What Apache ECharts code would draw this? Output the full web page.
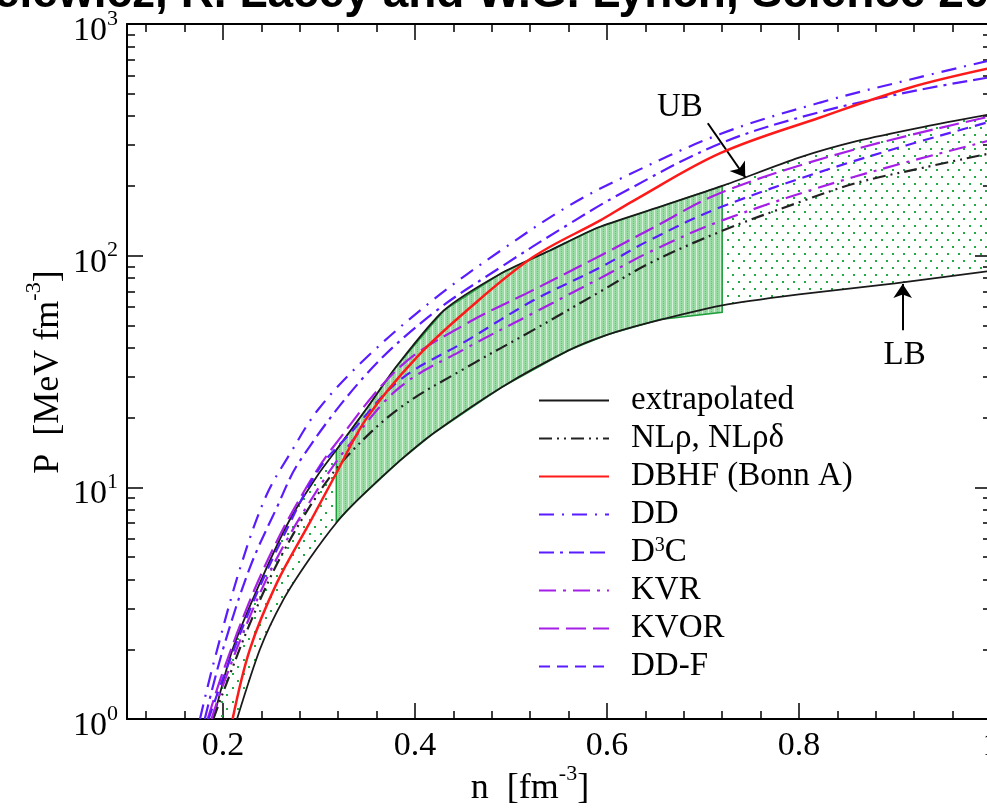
<!DOCTYPE html>
<html><head><meta charset="utf-8">
<script src="https://cdn.jsdelivr.net/npm/echarts@6.0.0/dist/echarts.min.js"></script>
<style>html,body{margin:0;padding:0;background:#fff}#c{width:987px;height:808px}</style>
</head><body><div id="c"></div>
<script>
// ---------- data (n in fm^-3, P in MeV fm^-3) ----------
const ubN = [0.19, 0.21, 0.24, 0.27, 0.30, 0.318, 0.35, 0.38, 0.43, 0.49, 0.54, 0.59, 0.65, 0.72, 0.80, 0.86, 0.93, 1.0];
const ubP = [1.0, 2.0, 4.0, 7.3, 11.5, 14.5, 22, 33, 58, 84, 105, 132, 160, 200, 265, 312, 360, 408];
const lbN = [0.2146, 0.2385, 0.2625, 0.29, 0.319, 0.34, 0.384, 0.42, 0.49, 0.56, 0.60, 0.645, 0.72, 0.80, 0.90, 1.0];
const lbP = [1.0, 2.0, 3.25, 4.9, 7.1, 8.8, 13, 17.2, 27, 39, 45.5, 51.5, 61, 68, 76, 86];
const flowTopN = [0.318, 0.35, 0.38, 0.43, 0.49, 0.54, 0.59, 0.65, 0.72];
const flowTopP = [14.5, 22, 33, 58, 84, 105, 132, 160, 200];
const flowBotN = [0.318, 0.34, 0.384, 0.42, 0.49, 0.56, 0.60, 0.655, 0.72];
const flowBotP = [7.1, 8.8, 13, 17.2, 27, 39, 45.5, 53, 57];

const nlN = [0.19, 0.2, 0.23, 0.26, 0.3, 0.332, 0.384, 0.454, 0.523, 0.593, 0.645, 0.72, 0.8, 0.86, 0.93, 1.0];
const nlP = [1.0, 1.3, 2.7, 5.0, 9.5, 14, 22, 33, 47.7, 70, 93, 128, 170, 206, 240, 277];
const redN = [0.21, 0.228, 0.256, 0.29, 0.318, 0.35, 0.402, 0.454, 0.523, 0.593, 0.627, 0.718, 0.822, 0.916, 1.0];
const redP = [1.0, 2.0, 3.86, 7.0, 11.5, 20, 36.5, 58, 98.6, 142, 172, 277, 395, 532, 646];
const ddN = [0.176, 0.19, 0.218, 0.245, 0.27, 0.3, 0.35, 0.419, 0.489, 0.558, 0.614, 0.718, 0.822, 0.926, 1.0];
const ddP = [1.0, 1.73, 4.5, 9.2, 14, 21.9, 36.5, 64.5, 105, 162, 215, 335, 458, 590, 698];
const d3cN = [0.181, 0.2, 0.228, 0.255, 0.28, 0.35, 0.419, 0.489, 0.558, 0.614, 0.718, 0.822, 0.926, 1.0];
const d3cP = [1.0, 2.0, 4.5, 8.0, 13, 31, 56.5, 89, 135, 185, 305, 417, 520, 590];
const kvrN = [0.188, 0.2, 0.23, 0.26, 0.3, 0.33, 0.384, 0.454, 0.523, 0.593, 0.645, 0.72, 0.856, 1.0];
const kvrP = [1.0, 1.4, 2.9, 5.3, 10, 15, 27, 40, 56.5, 80, 104, 142, 218, 315];
const kvorN = [0.184, 0.2, 0.23, 0.26, 0.29, 0.3146, 0.384, 0.454, 0.523, 0.593, 0.645, 0.72, 0.856, 1.0];
const kvorP = [1.0, 1.6, 3.4, 6.3, 10.5, 14.9, 33, 51, 71, 100, 130, 188, 286, 400];
const ddfN = [0.185, 0.2, 0.23, 0.26, 0.3, 0.332, 0.384, 0.454, 0.523, 0.593, 0.645, 0.72, 0.856, 1.0];
const ddfP = [1.0, 1.5, 3.1, 5.8, 12, 17, 29, 43, 64, 89, 117, 163, 255, 380];

const legendNames = ['extrapolated', 'NLρ, NLρδ', 'DBHF (Bonn A)', 'DD', 'D3C', 'KVR', 'KVOR', 'DD-F'];

// ticks & labels
const xMajorTicks = [0.2, 0.4, 0.6, 0.8, 1.0];
const xMinorTicks = [0.12, 0.16, 0.24, 0.28, 0.32, 0.36, 0.44, 0.48, 0.52, 0.56, 0.64, 0.68, 0.72, 0.76, 0.84, 0.88, 0.92, 0.96];
const xTickLabels = [0.2, 0.4, 0.6, 0.8, 1.0];
const yMajorTicks = [1, 10, 100, 1000];
const yMinorTicks = [2,3,4,5,6,7,8,9,20,30,40,50,60,70,80,90,200,300,400,500,600,700,800,900];
const yTickLabels = [1, 10, 100, 1000];

// annotations (data coordinates)
const ubText = [0.676, 438];
const ubArrow = [[0.705, 373], [0.744, 218]];
const lbText = [0.91, 37];
const lbArrow = [[0.908, 47.7], [0.908, 75.4]];

// ---------- helpers ----------
const zip = (a, b) => a.map((v, i) => [v, b[i]]);
const SERIF = 'Liberation Serif';
const BLUE = '#5a1cff';
const PURPLE = '#a61fe6';

function dotPattern() {
  const c = document.createElement('canvas'); c.width = 11; c.height = 14;
  const g = c.getContext('2d');
  g.fillStyle = '#22aa44';
  g.fillRect(1, 1, 2, 2); g.fillRect(6, 8, 2, 2);
  return c;
}
function hatchPattern() {
  const c = document.createElement('canvas'); c.width = 6; c.height = 4;
  const g = c.getContext('2d');
  g.fillStyle = '#98dca3'; g.fillRect(0, 0, 6, 4);
  g.fillStyle = '#d6f1d9'; g.fillRect(0, 0, 1, 4);
  g.fillStyle = '#5fc676'; g.fillRect(3, 1, 1, 1); g.fillRect(3, 3, 1, 1);
  return c;
}

const bandPoly = zip(ubN, ubP).concat(zip(lbN, lbP).reverse());
const flowPoly = zip(flowTopN, flowTopP).concat(zip(flowBotN, flowBotP).reverse());

function polySeries(pts, fill, stroke, lw, z) {
  return {
    type: 'custom', coordinateSystem: 'cartesian2d', xAxisIndex: 0, yAxisIndex: 0,
    clip: true, silent: true, z: z, data: pts,
    renderItem: function (params, api) {
      if (params.dataIndex !== 0) return null;
      const p = pts.map(q => api.coord(q));
      return { type: 'polygon', shape: { points: p },
        style: { fill: fill, stroke: stroke, lineWidth: lw } };
    }
  };
}

function lineSeries(name, n, p, color, type, width, z, smooth) {
  return {
    name: name, type: 'line', data: zip(n, p), xAxisIndex: 0, yAxisIndex: 0,
    symbol: 'none', showSymbol: false, smooth: smooth === undefined ? 0.35 : smooth,
    clip: true, z: z || 4,
    lineStyle: { color: color, type: type, width: width },
    itemStyle: { color: color }
  };
}

const richSup = {
  b: { fontFamily: SERIF, fontSize: 34, lineHeight: 40, verticalAlign: 'bottom', color: '#000' },
  s: { fontFamily: SERIF, fontSize: 22, lineHeight: 22, verticalAlign: 'top', color: '#000' }
};

function xAx(grid, pos, ticks, len, line, labels) {
  return {
    gridIndex: grid, type: 'value', position: pos, min: 0.1, max: 1.0,
    axisLine: { show: line, onZero: false, lineStyle: { color: '#000', width: 2 } },
    axisTick: { show: true, inside: true, length: len, customValues: ticks, lineStyle: { color: '#000', width: 1.5 } },
    axisLabel: labels ? { show: true, customValues: xTickLabels, margin: 10, fontFamily: SERIF, fontSize: 34, color: '#000',
      formatter: v => (Math.abs(v - 1) < 1e-9 ? '1' : Number(v).toFixed(1)) } : { show: false },
    splitLine: { show: false }
  };
}
function yAx(grid, pos, ticks, len, line, labels) {
  return {
    gridIndex: grid, type: 'log', logBase: 10, position: pos, min: 1, max: 1000,
    axisLine: { show: line, onZero: false, lineStyle: { color: '#000', width: 2 } },
    axisTick: { show: true, inside: true, length: len, customValues: ticks, lineStyle: { color: '#000', width: 1.5 } },
    axisLabel: labels ? { show: true, customValues: yTickLabels, margin: 9, padding: [8, 0, 0, 0],
      formatter: v => '{b|10}{s|' + Math.round(Math.log10(v)) + '}', rich: richSup } : { show: false },
    splitLine: { show: false }
  };
}

const gridBox = { left: 127, top: 24, width: 864, height: 695, containLabel: false, outerBoundsMode: 'none' };

const option = {
  animation: false,
  backgroundColor: '#fff',
  grid: [Object.assign({}, gridBox), Object.assign({}, gridBox)],
  xAxis: [
    xAx(0, 'bottom', xMajorTicks, 16, true, true),
    xAx(0, 'top', xMajorTicks, 16, true, false),
    xAx(1, 'bottom', xMinorTicks, 8, false, false),
    xAx(1, 'top', xMinorTicks, 8, false, false)
  ],
  yAxis: [
    yAx(0, 'left', yMajorTicks, 16, true, true),
    yAx(0, 'right', yMajorTicks, 16, true, false),
    yAx(1, 'left', yMinorTicks, 8, false, false),
    yAx(1, 'right', yMinorTicks, 8, false, false)
  ],
  legend: {
    data: legendNames, orient: 'vertical', left: 533, top: 379,
    itemWidth: 70, itemHeight: 14, itemGap: 5, selectedMode: false,
    itemStyle: { opacity: 0, borderWidth: 0 },
    formatter: name => name === 'D3C' ? 'D{sup|3}C' : name,
    textStyle: { fontFamily: SERIF, fontSize: 33, lineHeight: 33, color: '#000', padding: [0, 0, 0, 17],
      rich: { sup: { fontFamily: SERIF, fontSize: 20, lineHeight: 20, verticalAlign: 'top', padding: [0, 0, 6, 0], color: '#000' } } }
  },
  graphic: [
    { type: 'text', x: -156, y: -6, z: 100,
      style: { text: 'P. Danielewicz, R. Lacey and W.G. Lynch, Science 2002', fontFamily: 'Liberation Sans',
        fontWeight: 'bold', fontSize: 46, fill: '#000', align: 'left', verticalAlign: 'middle' } },
    { type: 'text', x: 530, y: 785, z: 100,
      style: { text: '{b|n  [fm}{s|-3}{b|]}', rich: {
          b: { fontFamily: SERIF, fontSize: 36, lineHeight: 44, verticalAlign: 'bottom', fill: '#000' },
          s: { fontFamily: SERIF, fontSize: 22, lineHeight: 22, verticalAlign: 'top', fill: '#000' } },
        align: 'center', verticalAlign: 'middle' } },
    { type: 'text', x: 45, y: 372, z: 100, rotation: Math.PI / 2,
      style: { text: '{b|P  [MeV fm}{s|-3}{b|]}', rich: {
          b: { fontFamily: SERIF, fontSize: 36, lineHeight: 44, verticalAlign: 'bottom', fill: '#000' },
          s: { fontFamily: SERIF, fontSize: 22, lineHeight: 22, verticalAlign: 'top', fill: '#000' } },
        align: 'center', verticalAlign: 'middle' } }
  ],
  series: [
    polySeries(bandPoly, { image: dotPattern(), repeat: 'repeat' }, null, 0, 1),
    polySeries(flowPoly, { image: hatchPattern(), repeat: 'repeat' }, '#1f9e3c', 1.5, 2),
    lineSeries('extrapolated', ubN, ubP, '#1a1a1a', 'solid', 1.8, 3, 0.25),
    lineSeries('extrapolated', lbN, lbP, '#1a1a1a', 'solid', 1.8, 3, 0.25),
    lineSeries('NLρ, NLρδ', nlN, nlP, '#222', [13, 5, 2, 5, 2, 5], 2.2, 4),
    lineSeries('DBHF (Bonn A)', redN, redP, '#ff1a1a', 'solid', 2.5, 5),
    lineSeries('DD', ddN, ddP, BLUE, [15, 8, 2, 8], 2.2, 4),
    lineSeries('D3C', d3cN, d3cP, BLUE, [15, 6, 3, 6, 15, 6], 2.2, 4),
    lineSeries('KVR', kvrN, kvrP, PURPLE, [17, 7, 3, 7], 2.2, 4),
    lineSeries('KVOR', kvorN, kvorP, PURPLE, [20, 7], 2.2, 4),
    lineSeries('DD-F', ddfN, ddfP, BLUE, [11, 7], 2.2, 4),
    {
      type: 'line', data: [], xAxisIndex: 0, yAxisIndex: 0, z: 10, silent: true,
      markLine: {
        silent: true, symbol: ['none', 'arrow'], symbolSize: 14, animation: false,
        lineStyle: { color: '#000', width: 2, type: 'solid' }, label: { show: false },
        data: [
          [{ coord: ubArrow[0] }, { coord: ubArrow[1] }],
          [{ coord: lbArrow[0] }, { coord: lbArrow[1] }]
        ]
      },
      markPoint: {
        silent: true, symbol: 'circle', symbolSize: 1, itemStyle: { color: 'rgba(0,0,0,0)' },
        label: { show: true, position: 'inside', fontFamily: SERIF, fontSize: 33, color: '#000' },
        data: [
          { coord: ubText, value: 'UB', label: { formatter: 'UB' } },
          { coord: lbText, value: 'LB', label: { formatter: 'LB' } }
        ]
      }
    }
  ]
};

const chart = echarts.init(document.getElementById('c'), null, { renderer: 'canvas' });
chart.setOption(option);
</script></body></html>
